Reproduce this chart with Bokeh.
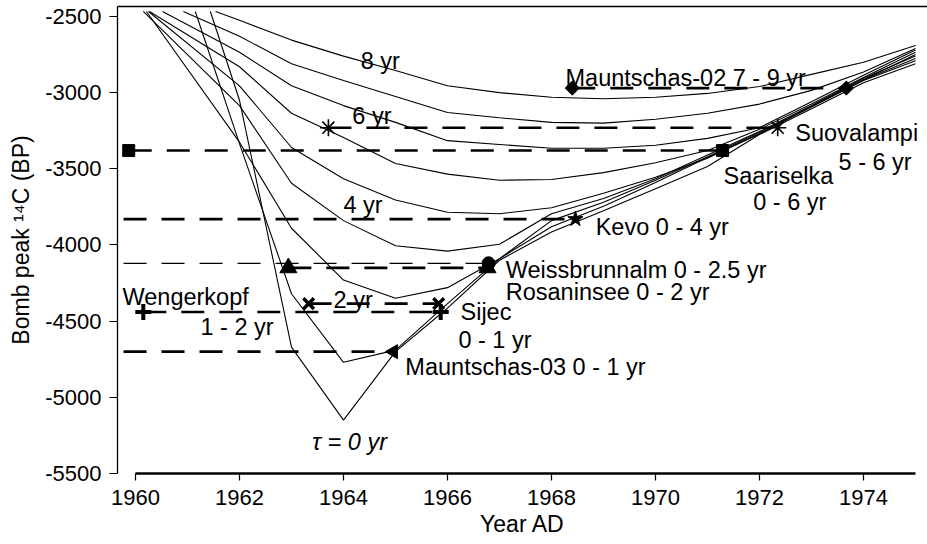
from math import pi
from bokeh.plotting import figure
from bokeh.models import Range1d, FixedTicker, LinearAxis, ColumnDataSource
from bokeh.core.properties import value
from bokeh.embed import file_html
from bokeh.resources import INLINE

# ---------------- model curves: bomb-peak 14C for mean residence time tau ----------------
years = list(range(1962, 1976))
tau_years = [0, 1, 2, 3, 4, 5, 6, 7, 8]
# where each curve enters through the top of the panel
entry_year = [1961.44, 1961.15, 1960.21, 1960.15, 1960.25, 1960.27, 1960.52, 1960.92, 1961.54]
entry_value = -2467
tau0 = [-3050, -4670, -5150, -4700, -4415, -4100, -3915, -3775, -3630, -3485, -3275, -3105, -2935, -2810]
tau1 = [-3335, -4320, -4770, -4690, -4385, -4090, -3880, -3745, -3590, -3425, -3270, -3095, -2920, -2790]
tau2 = [-3325, -3890, -4230, -4350, -4280, -4090, -3840, -3720, -3575, -3420, -3260, -3090, -2915, -2775]
tau3 = [-3085, -3595, -3840, -4005, -4040, -3995, -3795, -3695, -3565, -3410, -3255, -3085, -2905, -2760]
tau4 = [-2955, -3360, -3565, -3705, -3785, -3795, -3755, -3660, -3555, -3430, -3270, -3090, -2915, -2750]
tau5 = [-2830, -3135, -3295, -3465, -3535, -3575, -3570, -3525, -3460, -3380, -3240, -3075, -2900, -2735]
tau6 = [-2735, -2955, -3085, -3195, -3315, -3340, -3365, -3365, -3345, -3300, -3230, -3060, -2885, -2720]
tau7 = [-2630, -2810, -2920, -3025, -3130, -3165, -3195, -3200, -3175, -3135, -3075, -2985, -2865, -2710]
tau8 = [-2525, -2655, -2760, -2855, -2955, -3000, -3030, -3040, -3030, -3005, -2960, -2880, -2800, -2690]
curves = [tau0, tau1, tau2, tau3, tau4, tau5, tau6, tau7, tau8]

# ---------------- measured lake/site bomb peaks ----------------
site_names = ["Saariselka", "Suovalampi", "Mauntschas-02", "Kevo", "Weissbrunnalm",
              "Rosaninsee", "Sijec", "Wengerkopf", "Mauntschas-03"]
site_peak = [-3380, -3230, -2970, -3830, -4120, -4150, -4385, -4440, -4700]
site_start_year = [1959.87, 1963.71, 1968.40, 1959.77, 1959.77, 1962.94, 1963.33, 1960.15, 1959.77]
site_end_year = [1971.29, 1972.35, 1973.67, 1968.46, 1966.79, 1966.77, 1965.83, 1965.87, 1964.96]
site_start_marked = [True, True, True, False, False, True, True, True, False]

# ---------------- axes ----------------
x_ticks = [1960, 1962, 1964, 1966, 1968, 1970, 1972, 1974]
x_tick_labels = ["1960", "1962", "1964", "1966", "1968", "1970", "1972", "1974"]
y_ticks = [-5500, -5000, -4500, -4000, -3500, -3000, -2500]
y_tick_labels = ["-5500", "-5000", "-4500", "-4000", "-3500", "-3000", "-2500"]
x_title = "Year AD"
y_title = "Bomb peak \u00b9\u2074C (BP)"

# ---------------- annotations ----------------
note_text = ["8 yr", "6 yr", "4 yr", "2 yr", "Mauntschas-02  7 - 9 yr", "Suovalampi", "5 - 6 yr",
             "Saariselka", "0 - 6 yr", "Kevo  0 - 4 yr", "Weissbrunnalm 0 - 2.5 yr",
             "Rosaninsee  0 - 2 yr", "Sijec", "0 - 1 yr", "Mauntschas-03  0 - 1 yr",
             "Wengerkopf", "1 - 2 yr"]
note_x = [1964.33, 1964.17, 1964.00, 1963.81, 1968.27, 1972.69, 1973.52, 1971.31, 1971.88,
          1968.85, 1967.12, 1967.12, 1966.25, 1966.21, 1965.19, 1959.75, 1961.25]
note_y = [-2789, -3150, -3740, -4364, -2907, -3268, -3458, -3550, -3721, -3885, -4167,
          -4311, -4442, -4626, -4803, -4344, -4541]
tau0_note = "\u03c4 = 0 yr"
tau0_note_x = 1963.40
tau0_note_y = -5295

FONT = "Liberation Sans"

p = figure(width=927, height=544, output_backend="svg", toolbar_location=None,
           x_range=Range1d(1959.654, 1975.231), y_range=Range1d(-5500, -2434.4),
           min_border_left=117, min_border_right=0, min_border_top=6, min_border_bottom=71,
           background_fill_color="white", border_fill_color="white", outline_line_color=None)
p.xgrid.visible = False
p.ygrid.visible = False

# model curves
for i, c in enumerate(curves):
    xs = [entry_year[i]] + years
    ys = [entry_value] + c
    p.line(xs, ys, line_color="black", line_width=1.1)

# dashed site lines
for i in range(len(site_names)):
    w = 1.2 if site_names[i] == "Weissbrunnalm" else 2.6
    p.line([site_start_year[i], site_end_year[i]], [site_peak[i], site_peak[i]],
           line_color="black", line_width=w, line_dash="23 15")

marker_style = {
    "Saariselka": dict(marker="square", size=12),
    "Suovalampi": dict(marker="asterisk", size=17, line_width=1.6),
    "Mauntschas-02": dict(marker="square", size=10, angle=pi / 4),
    "Kevo": dict(marker="star", size=16),
    "Weissbrunnalm": dict(marker="circle", size=13),
    "Rosaninsee": dict(marker="triangle", size=17),
    "Sijec": dict(marker="x", size=15, line_width=3.5),
    "Wengerkopf": dict(marker="cross", size=16, line_width=4),
    "Mauntschas-03": dict(marker="triangle", size=14, angle=pi / 2),
}
for i, name in enumerate(site_names):
    xs = [site_end_year[i]]
    if site_start_marked[i]:
        xs = [site_start_year[i]] + xs
    st = dict(marker_style[name])
    st.setdefault("line_width", 1)
    p.scatter(xs, [site_peak[i]] * len(xs), fill_color="black", line_color="black", **st)

# annotations
src = ColumnDataSource(dict(x=note_x, y=note_y, text=note_text))
p.text(x="x", y="y", text="text", source=src, text_font=value(FONT), text_font_size="23.5px",
       text_color="black", text_align="left", text_baseline="alphabetic")
p.text(x=[tau0_note_x], y=[tau0_note_y], text=[tau0_note], text_font=value(FONT),
       text_font_size="23.5px", text_font_style="italic", text_color="black",
       text_align="left", text_baseline="alphabetic")

# axes
p.xaxis.ticker = FixedTicker(ticks=x_ticks)
p.xaxis.major_label_overrides = dict(zip(x_ticks, x_tick_labels))
p.xaxis.bounds = (1960, 1975)
p.xaxis.axis_line_width = 2.5
p.xaxis.major_tick_out = 7
p.xaxis.major_tick_in = 0
p.xaxis.major_tick_line_width = 1.2
p.xaxis.minor_tick_line_color = None
p.xaxis.major_label_standoff = 9
p.xaxis.axis_label = x_title
p.xaxis.axis_label_standoff = 3
p.yaxis.ticker = FixedTicker(ticks=y_ticks)
p.yaxis.major_label_overrides = dict(zip(y_ticks, y_tick_labels))
p.yaxis.axis_line_width = 1.3
p.yaxis.major_tick_out = 8
p.yaxis.major_tick_in = 0
p.yaxis.major_tick_line_width = 1.2
p.yaxis.minor_tick_line_color = None
p.yaxis.major_label_standoff = 8
p.yaxis.axis_label = y_title
p.yaxis.axis_label_standoff = 8
for ax in (p.xaxis, p.yaxis):
    ax.major_label_text_font = FONT
    ax.major_label_text_font_size = "22px"
    ax.major_label_text_color = "black"
    ax.axis_label_text_font = FONT
    ax.axis_label_text_font_size = "23px"
    ax.axis_label_text_font_style = "normal"
    ax.axis_label_text_color = "black"
    ax.axis_line_color = "black"
    ax.major_tick_line_color = "black"

top = LinearAxis(ticker=FixedTicker(ticks=[]), major_tick_out=0, major_tick_in=0,
                 major_label_standoff=0, major_label_text_font_size="0px",
                 axis_line_width=1.3, axis_line_color="black", minor_tick_line_color=None)
p.add_layout(top, "above")

open("out.html", "w").write(file_html(p, INLINE))
